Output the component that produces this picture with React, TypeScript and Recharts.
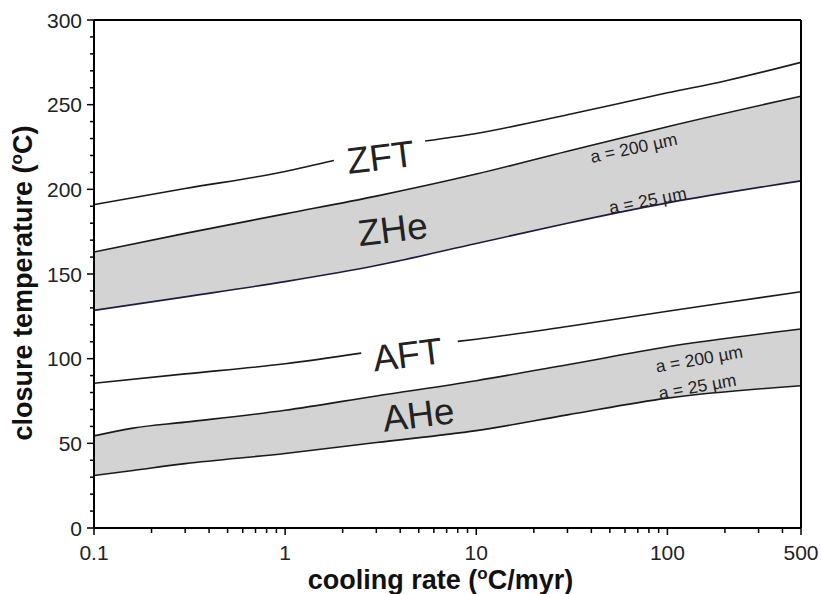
import React from 'react';
import { ComposedChart, Line, Area, XAxis, YAxis, ReferenceLine, ReferenceDot, Label } from 'recharts';

// axis ticks
const majorRates = [0.1, 1, 10, 100, 500];
const minorRates = [0.2, 0.3, 0.4, 0.5, 0.6, 0.7, 0.8, 0.9, 2, 3, 4, 5, 6, 7, 8, 9, 20, 30, 40, 50, 60, 70, 80, 90, 200, 300, 400];
const majorTemps = [0, 50, 100, 150, 200, 250, 300];
const minorTemps = [10, 20, 30, 40, 60, 70, 80, 90, 110, 120, 130, 140, 160, 170, 180, 190, 210, 220, 230, 240, 260, 270, 280, 290];

// zircon fission track (line broken by its label)
const zftRateA = [0.1, 0.3, 1, 1.8];
const zftTempA = [191, 200.5, 210.5, 217];
const zftRateB = [5.4, 10, 30, 100, 200, 500];
const zftTempB = [228.5, 233, 244, 257, 264, 275];

// zircon (U-Th)/He band, a = 25 um and a = 200 um
const zheRate = [0.1, 0.3, 1, 3, 10, 30, 100, 500];
const zheHigh = [163, 174, 185.5, 196, 209, 222.5, 237, 255];
const zheLow = [128.5, 136.5, 145.5, 155, 168, 180, 192, 205];

// apatite fission track
const aftRateA = [0.1, 0.3, 1, 2.5];
const aftTempA = [85.5, 91, 97, 103.3];
const aftRateB = [8, 10, 30, 100, 200, 500];
const aftTempB = [110.2, 111.5, 119, 128, 133, 139.5];

// apatite (U-Th)/He band
const aheRate = [0.1, 0.16, 0.3, 1, 3, 10, 30, 100, 500];
const aheHigh = [54.4, 59, 62.5, 69.5, 78, 87, 96.4, 107, 117.5];
const aheLow = [31, 34, 38, 44, 50.5, 57.5, 66.8, 76.7, 84];

const labels = [
  { text: 'ZFT', rate: 3.16, temp: 218.8, size: 37, angle: -7 },
  { text: 'ZHe', rate: 3.65, temp: 176.2, size: 37, angle: -7 },
  { text: 'AFT', rate: 4.37, temp: 102.3, size: 37, angle: -7 },
  { text: 'AHe', rate: 4.99, temp: 66.8, size: 37, angle: -7 },
  { text: 'a = 200 \u00b5m', rate: 66.7, temp: 224.5, size: 17.5, angle: -12 },
  { text: 'a = 25 \u00b5m', rate: 78.9, temp: 193.5, size: 17.5, angle: -11 },
  { text: 'a = 200 \u00b5m', rate: 146.6, temp: 99.8, size: 17.5, angle: -10 },
  { text: 'a = 25 \u00b5m', rate: 143.6, temp: 83.6, size: 17.5, angle: -10 },
];

const pts = (xs: number[], ys: number[]) => xs.map((x, i) => ({ rate: x, temp: ys[i] }));
const band = (xs: number[], lo: number[], hi: number[]) => xs.map((x, i) => ({ rate: x, range: [lo[i], hi[i]] }));

const font = '"Liberation Sans", Arial, Helvetica, sans-serif';
const ink = '#1a1a1a';

// ticks drawn by hand so that minor ticks can be shorter and unlabeled
const XTick = (p: any) => {
  const v = p.payload.value;
  const major = majorRates.includes(v);
  return (
    <g>
      <line x1={p.x} x2={p.x} y1={p.y} y2={p.y + (major ? 7 : 5)} stroke="#000" strokeWidth={1.5} />
      {major && (
        <text x={p.x} y={p.y + 32} textAnchor="middle" fontSize={21} fill="#222">
          {String(v)}
        </text>
      )}
    </g>
  );
};

const YTick = (p: any) => {
  const v = p.payload.value;
  const major = majorTemps.includes(v);
  return (
    <g>
      <line x1={p.x - (major ? 7 : 4)} x2={p.x} y1={p.y} y2={p.y} stroke="#000" strokeWidth={1.5} />
      {major && (
        <text x={p.x - 12} y={p.y + 7.5} textAnchor="end" fontSize={21} fill="#222">
          {String(v)}
        </text>
      )}
    </g>
  );
};

const curve = (data: any[], key: string, color = ink) => (
  <Line
    key={key}
    data={data}
    dataKey="temp"
    type="monotone"
    stroke={color}
    strokeWidth={1.6}
    dot={false}
    activeDot={false}
    isAnimationActive={false}
  />
);

export default function App() {
  return (
    <div style={{ position: 'absolute', left: 0, top: 0, width: 821, height: 594, background: '#fff' }}>
      <ComposedChart width={821} height={594} margin={{ top: 20, right: 20, bottom: 0, left: 0 }} style={{ fontFamily: font }}>
        <XAxis
          dataKey="rate"
          type="number"
          scale="log"
          domain={[0.1, 500]}
          allowDataOverflow
          ticks={[...majorRates, ...minorRates].sort((a, b) => a - b)}
          interval={0}
          tickSize={0}
          tickMargin={0}
          tickLine={false}
          tick={<XTick />}
          height={66}
          stroke="#000"
          axisLine={{ strokeWidth: 2 }}
        >
          <Label
            content={(p: any) => {
              const vb = p.viewBox;
              return (
                <text x={vb.x + vb.width / 2 - 7} y={589} textAnchor="middle" fontSize={27} fontWeight="bold" fill="#111">
                  cooling rate (<tspan fontSize={17} dy={-10}>o</tspan><tspan dy={10}>C/myr)</tspan>
                </text>
              );
            }}
          />
        </XAxis>
        <YAxis
          type="number"
          domain={[0, 300]}
          ticks={[...majorTemps, ...minorTemps].sort((a, b) => a - b)}
          interval={0}
          tickSize={0}
          tickMargin={0}
          tickLine={false}
          tick={<YTick />}
          width={94}
          stroke="#000"
          axisLine={{ strokeWidth: 2 }}
        >
          <Label
            content={() => (
              <text transform="translate(32 283) rotate(-90)" textAnchor="middle" fontSize={27} fontWeight="bold" fill="#111">
                closure temperature (<tspan fontSize={17} dy={-10}>o</tspan><tspan dy={10}>C)</tspan>
              </text>
            )}
          />
        </YAxis>

        <Area
          data={band(zheRate, zheLow, zheHigh)}
          dataKey="range"
          type="monotone"
          fill="#d3d3d3"
          fillOpacity={1}
          stroke="none"
          isAnimationActive={false}
          activeDot={false}
        />
        <Area
          data={band(aheRate, aheLow, aheHigh)}
          dataKey="range"
          type="monotone"
          fill="#d3d3d3"
          fillOpacity={1}
          stroke="none"
          isAnimationActive={false}
          activeDot={false}
        />

        {curve(pts(zftRateA, zftTempA), 'zftA')}
        {curve(pts(zftRateB, zftTempB), 'zftB')}
        {curve(pts(zheRate, zheHigh), 'zheHigh')}
        {curve(pts(zheRate, zheLow), 'zheLow', '#1c1c3e')}
        {curve(pts(aftRateA, aftTempA), 'aftA')}
        {curve(pts(aftRateB, aftTempB), 'aftB')}
        {curve(pts(aheRate, aheHigh), 'aheHigh')}
        {curve(pts(aheRate, aheLow), 'aheLow')}

        <ReferenceLine y={300} stroke="#000" strokeWidth={2} />
        <ReferenceLine x={500} stroke="#000" strokeWidth={2} />

        {labels.map((l, i) => (
          <ReferenceDot
            key={i}
            x={l.rate}
            y={l.temp}
            r={0}
            shape={(p: any) => (
              <text
                x={p.cx}
                y={p.cy}
                textAnchor="middle"
                dominantBaseline="central"
                transform={`rotate(${l.angle} ${p.cx} ${p.cy})`}
                fontSize={l.size}
                fontFamily={font}
                fill="#222"
              >
                {l.text}
              </text>
            )}
          />
        ))}
      </ComposedChart>
    </div>
  );
}
